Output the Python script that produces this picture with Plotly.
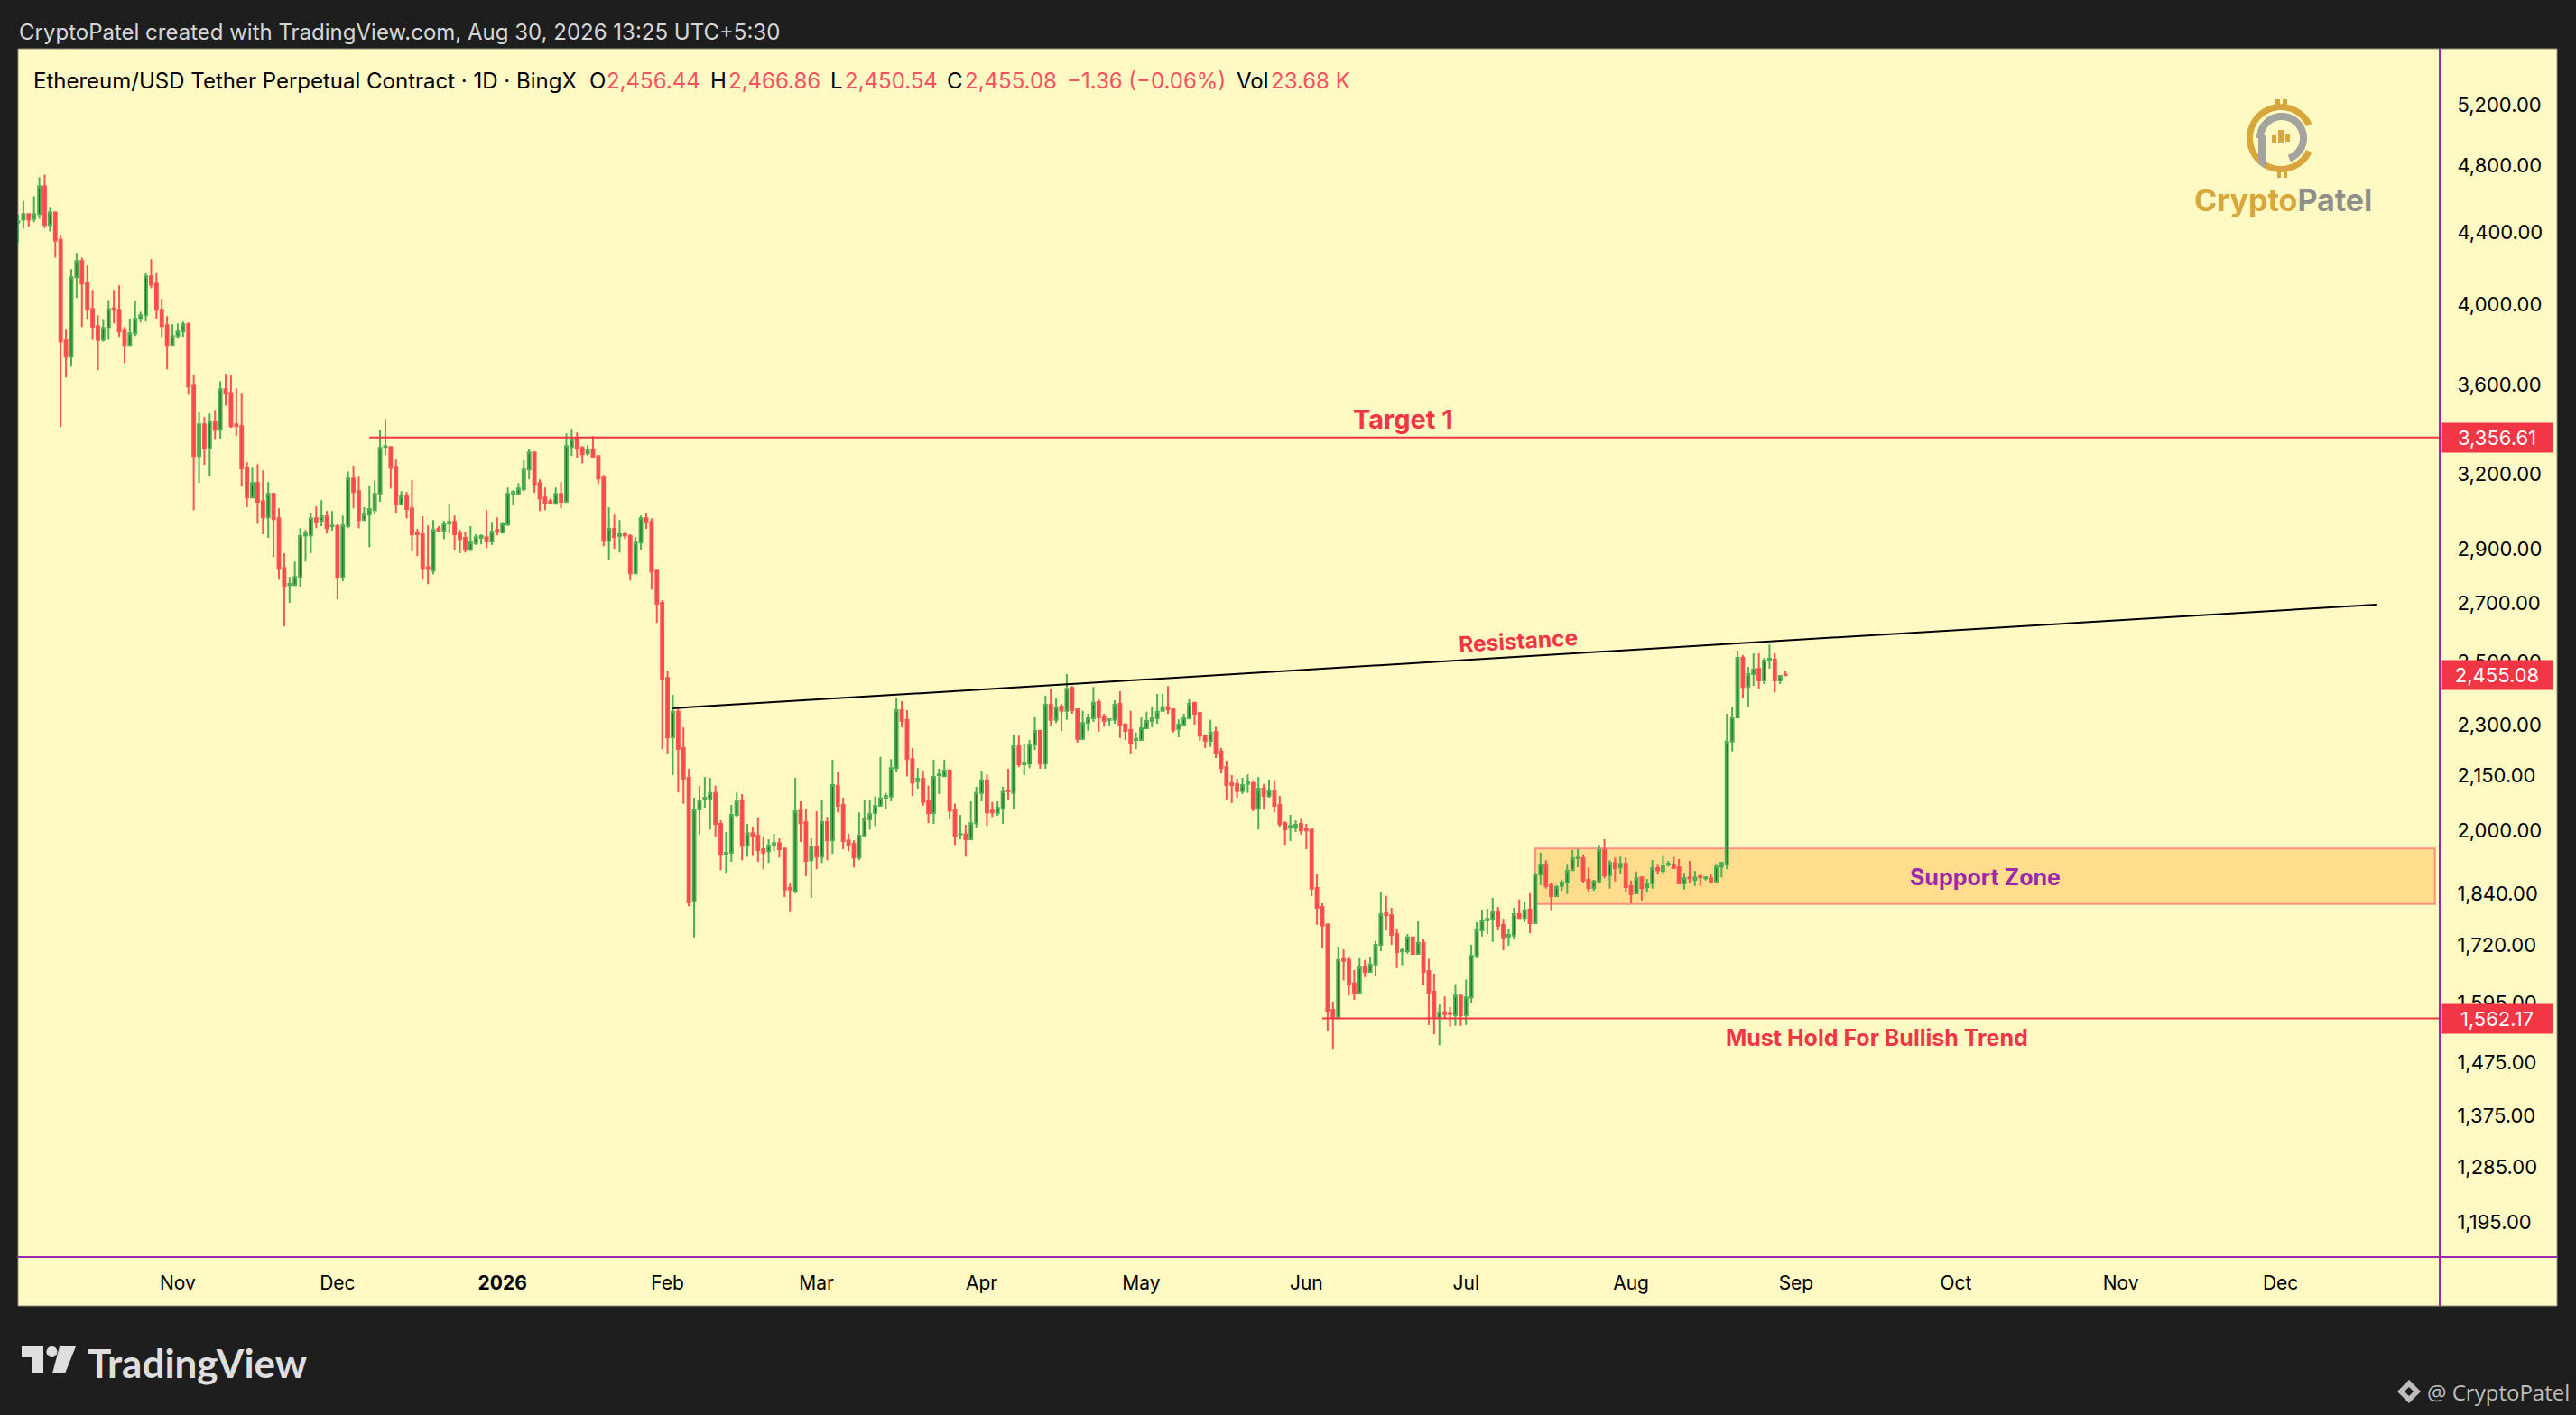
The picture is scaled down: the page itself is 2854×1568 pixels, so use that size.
"""ETHUSDT perpetual daily chart with support / resistance markup."""

import math

import numpy as np
import pandas as pd
import plotly.graph_objects as go

# Daily candles, first one is 2025-10-02
first_day = "2025-10-02"

opens = [
    4455,
    4471, 4504, 4477, 4504, 4672, 4440, 4514, 4355, 3814, 3733,
    4145, 4234, 4115, 3975, 3887, 3818, 3878, 3980, 3971, 3864,
    3791, 3850, 3924, 3943, 4150, 4110, 3971, 3892, 3791, 3837,
    3860, 3897, 3594, 3276, 3415, 3308, 3427, 3391, 3577, 3560,
    3415, 3407, 3226, 3102, 3161, 3087, 3022, 3117, 3018, 2827,
    2764, 2764, 2794, 2951, 2951, 3018, 3008, 3026, 2987, 2987,
    2791, 2987, 3180, 3128, 3011, 3033, 3051, 3117, 3315, 3315,
    3230, 3073, 3106, 3058, 2962, 2955, 2830, 2817, 2976, 2969,
    2997, 3004, 2958, 2941, 2896, 2920, 2941, 2944, 2927, 2972,
    2962, 2994, 3117, 3117, 3135, 3218, 3292, 3161, 3102, 3087,
    3076, 3117, 3084, 3315, 3351, 3311, 3288, 3304, 3276, 3184,
    2930, 2976, 2948, 2955, 2948, 2807, 2923, 3018, 3004, 2817,
    2700, 2446, 2262, 2339, 2230, 2144, 1822, 2057, 2084, 2086,
    2102, 2018, 1938, 1943, 2042, 2082, 1961, 1994, 1987, 1952,
    1947, 1963, 1968, 1954, 1855, 1848, 2054, 2023, 1924, 1959,
    1933, 2023, 1975, 2122, 2069, 1975, 1966, 1931, 1987, 2030,
    2047, 2067, 2089, 2092, 2172, 2344, 2314, 2198, 2134, 2142,
    2079, 2047, 2152, 2149, 2165, 2057, 1990, 1990, 1978, 2020,
    2102, 2137, 2054, 2047, 2059, 2109, 2102, 2235, 2183, 2185,
    2240, 2281, 2185, 2361, 2314, 2355, 2342, 2414, 2347, 2257,
    2305, 2319, 2369, 2325, 2314, 2314, 2364, 2300, 2284, 2254,
    2254, 2289, 2311, 2319, 2342, 2353, 2347, 2287, 2300, 2319,
    2367, 2336, 2267, 2251, 2278, 2220, 2175, 2129, 2127, 2107,
    2127, 2129, 2059, 2114, 2094, 2109, 2069, 2020, 2008, 2008,
    2018, 2006, 2003, 1855, 1809, 1767, 1580, 1565, 1689, 1687,
    1636, 1616, 1671, 1661, 1677, 1721, 1794, 1790, 1746, 1707,
    1707, 1738, 1701, 1726, 1663, 1618, 1564, 1575, 1573, 1569,
    1610, 1569, 1606, 1697, 1754, 1777, 1781, 1797, 1767, 1740,
    1742, 1792, 1783, 1803, 1771, 1888, 1913, 1862, 1835, 1860,
    1868, 1899, 1929, 1929, 1875, 1855, 1871, 1950, 1886, 1917,
    1906, 1915, 1860, 1842, 1881, 1857, 1866, 1904, 1897, 1913,
    1913, 1906, 1866, 1881, 1875, 1884, 1879, 1879, 1871, 1908,
    1913, 2249, 2322, 2511, 2417, 2458, 2476, 2438, 2505, 2505,
    2438, 2456.44,
]

highs = [
    4503,
    4584, 4509, 4611, 4728, 4745, 4546, 4520, 4382, 3869, 4189,
    4280, 4254, 4209, 4076, 3943, 3920, 4023, 4076, 4101, 3883,
    3924, 4018, 3961, 4169, 4244, 4169, 4028, 3938, 3897, 3901,
    3910, 3906, 3645, 3472, 3448, 3464, 3480, 3615, 3650, 3641,
    3581, 3556, 3249, 3226, 3241, 3214, 3165, 3121, 3058, 2882,
    2794, 2851, 2979, 2972, 3037, 3065, 3091, 3047, 3047, 2994,
    3029, 3210, 3234, 3188, 3062, 3150, 3173, 3391, 3440, 3319,
    3261, 3128, 3124, 3173, 2976, 3026, 2990, 3011, 2987, 3008,
    3073, 3029, 2972, 2965, 2987, 2955, 2955, 3051, 3004, 3022,
    3004, 3143, 3132, 3161, 3257, 3304, 3296, 3176, 3143, 3098,
    3143, 3165, 3375, 3395, 3379, 3319, 3323, 3363, 3276, 3195,
    3062, 3033, 3011, 2965, 2955, 2944, 3029, 3040, 3018, 2820,
    2710, 2469, 2392, 2355, 2292, 2170, 2089, 2122, 2147, 2144,
    2122, 2028, 1997, 2069, 2104, 2099, 2018, 2011, 2035, 1983,
    1978, 1992, 1980, 1954, 1866, 2144, 2079, 2059, 1980, 2052,
    2084, 2037, 2196, 2160, 2089, 1992, 1975, 2049, 2084, 2082,
    2092, 2204, 2102, 2198, 2381, 2372, 2344, 2230, 2172, 2165,
    2122, 2196, 2170, 2196, 2170, 2072, 2042, 2016, 2079, 2119,
    2165, 2154, 2077, 2079, 2119, 2170, 2270, 2267, 2240, 2254,
    2325, 2284, 2389, 2411, 2381, 2364, 2458, 2420, 2350, 2342,
    2333, 2417, 2378, 2333, 2319, 2375, 2403, 2305, 2342, 2276,
    2322, 2339, 2353, 2395, 2395, 2420, 2347, 2316, 2333, 2378,
    2369, 2336, 2270, 2314, 2294, 2230, 2193, 2152, 2142, 2144,
    2154, 2137, 2147, 2127, 2139, 2137, 2094, 2025, 2042, 2028,
    2032, 2018, 2003, 1888, 1818, 1771, 1597, 1717, 1711, 1693,
    1665, 1691, 1687, 1693, 1730, 1846, 1835, 1807, 1758, 1715,
    1746, 1738, 1775, 1734, 1689, 1657, 1591, 1608, 1586, 1634,
    1610, 1644, 1721, 1773, 1803, 1805, 1831, 1809, 1781, 1758,
    1807, 1827, 1822, 1842, 1892, 1943, 1924, 1868, 1862, 1875,
    1915, 1950, 1952, 1938, 1906, 1875, 1963, 1978, 1924, 1931,
    1933, 1931, 1873, 1895, 1881, 1877, 1924, 1915, 1935, 1922,
    1933, 1927, 1892, 1922, 1897, 1888, 1884, 1888, 1915, 1920,
    2333, 2355, 2535, 2520, 2482, 2526, 2526, 2511, 2556, 2526,
    2455, 2466.86,
]

lows = [
    4336,
    4419, 4430, 4456, 4477, 4424, 4403, 4254, 3403, 3633, 3685,
    4033, 3883, 3920, 3818, 3667, 3809, 3818, 3901, 3832, 3702,
    3787, 3837, 3906, 3910, 4086, 3924, 3832, 3672, 3787, 3823,
    3832, 3552, 3051, 3161, 3238, 3188, 3347, 3351, 3501, 3399,
    3363, 3147, 3062, 3098, 2997, 2955, 2941, 2868, 2784, 2618,
    2700, 2760, 2758, 2851, 2882, 2979, 2987, 2958, 2969, 2713,
    2778, 2979, 3058, 2979, 3008, 2906, 3033, 3084, 3280, 3139,
    3037, 3069, 3018, 2889, 2871, 2784, 2768, 2804, 2962, 2937,
    2958, 2896, 2882, 2885, 2889, 2913, 2916, 2902, 2913, 2951,
    2958, 2987, 3069, 3113, 3128, 3176, 3121, 3047, 3051, 3073,
    3073, 3058, 3080, 3276, 3269, 3245, 3276, 3269, 3158, 2909,
    2858, 2899, 2885, 2937, 2781, 2804, 2896, 2976, 2748, 2630,
    2227, 2214, 2152, 2104, 2072, 1811, 1738, 1990, 2062, 2003,
    1985, 1899, 1892, 1920, 2037, 1924, 1933, 1935, 1920, 1901,
    1917, 1947, 1931, 1833, 1797, 1842, 1971, 1884, 1831, 1901,
    1917, 1924, 1940, 2049, 1952, 1947, 1906, 1924, 1985, 2003,
    2013, 2064, 2057, 2079, 2162, 2292, 2149, 2094, 2114, 2067,
    2020, 2018, 2099, 2147, 2030, 1963, 1978, 1933, 1975, 2008,
    2079, 2013, 2037, 2040, 2018, 2084, 2057, 2175, 2152, 2172,
    2225, 2170, 2170, 2297, 2305, 2281, 2314, 2333, 2246, 2254,
    2281, 2308, 2278, 2294, 2297, 2303, 2260, 2254, 2214, 2227,
    2251, 2289, 2292, 2303, 2339, 2333, 2276, 2262, 2294, 2316,
    2300, 2251, 2230, 2233, 2201, 2157, 2084, 2074, 2089, 2099,
    2102, 2052, 2003, 2057, 2089, 2049, 2011, 1963, 1973, 1997,
    1990, 1952, 1835, 1767, 1713, 1537, 1501, 1560, 1642, 1610,
    1601, 1614, 1649, 1659, 1651, 1707, 1754, 1721, 1669, 1675,
    1701, 1699, 1699, 1632, 1549, 1530, 1508, 1562, 1545, 1547,
    1547, 1549, 1593, 1691, 1740, 1746, 1728, 1754, 1709, 1719,
    1734, 1781, 1773, 1748, 1769, 1862, 1853, 1801, 1833, 1848,
    1840, 1897, 1906, 1868, 1844, 1848, 1868, 1879, 1853, 1871,
    1890, 1844, 1818, 1840, 1825, 1844, 1853, 1888, 1890, 1908,
    1902, 1864, 1851, 1868, 1860, 1860, 1873, 1866, 1868, 1881,
    1901, 2220, 2319, 2381, 2353, 2420, 2411, 2426, 2476, 2400,
    2426, 2450.54,
]

closes = [
    4462,
    4504, 4471, 4504, 4672, 4440, 4514, 4350, 3809, 3733, 4145,
    4234, 4110, 3971, 3883, 3818, 3878, 3975, 3971, 3860, 3791,
    3850, 3924, 3943, 4150, 4105, 3971, 3887, 3791, 3837, 3860,
    3897, 3590, 3276, 3415, 3308, 3427, 3391, 3577, 3556, 3407,
    3407, 3222, 3102, 3161, 3084, 3022, 3117, 3015, 2824, 2758,
    2768, 2794, 2948, 2958, 3018, 3004, 3026, 2979, 2990, 2791,
    2990, 3180, 3124, 3011, 3033, 3055, 3117, 3311, 3319, 3226,
    3073, 3106, 3055, 2955, 2955, 2824, 2824, 2972, 2969, 2997,
    3004, 2955, 2937, 2896, 2923, 2944, 2948, 2927, 2965, 2965,
    2997, 3117, 3124, 3139, 3218, 3292, 3158, 3098, 3080, 3080,
    3117, 3084, 3319, 3347, 3308, 3284, 3304, 3272, 3180, 2930,
    2976, 2944, 2955, 2951, 2807, 2923, 3018, 3004, 2814, 2697,
    2443, 2262, 2339, 2227, 2142, 1820, 2057, 2079, 2089, 2102,
    2018, 1938, 1943, 2042, 2079, 1961, 1994, 1985, 1950, 1943,
    1961, 1968, 1952, 1851, 1851, 2052, 2020, 1922, 1957, 1933,
    2023, 1975, 2124, 2067, 1973, 1963, 1931, 1987, 2030, 2044,
    2067, 2087, 2094, 2172, 2344, 2311, 2198, 2131, 2142, 2077,
    2047, 2147, 2154, 2165, 2054, 1987, 1992, 1978, 2020, 2102,
    2137, 2049, 2049, 2062, 2107, 2107, 2235, 2183, 2188, 2240,
    2281, 2185, 2361, 2314, 2353, 2342, 2411, 2344, 2257, 2305,
    2319, 2367, 2322, 2311, 2316, 2361, 2297, 2281, 2246, 2257,
    2289, 2311, 2319, 2339, 2353, 2347, 2284, 2300, 2319, 2364,
    2333, 2267, 2251, 2276, 2217, 2172, 2124, 2124, 2107, 2124,
    2132, 2059, 2114, 2094, 2109, 2067, 2018, 2003, 2013, 2016,
    2001, 2001, 1853, 1807, 1765, 1578, 1565, 1687, 1685, 1634,
    1616, 1671, 1661, 1677, 1721, 1792, 1790, 1744, 1705, 1709,
    1738, 1701, 1726, 1661, 1616, 1564, 1575, 1571, 1571, 1610,
    1569, 1606, 1697, 1754, 1777, 1781, 1797, 1765, 1738, 1744,
    1792, 1783, 1801, 1771, 1888, 1913, 1860, 1835, 1857, 1868,
    1897, 1929, 1931, 1873, 1855, 1871, 1950, 1886, 1917, 1904,
    1915, 1857, 1840, 1879, 1855, 1866, 1904, 1899, 1910, 1915,
    1904, 1866, 1879, 1879, 1881, 1881, 1881, 1871, 1908, 1917,
    2249, 2322, 2511, 2417, 2458, 2473, 2438, 2502, 2508, 2438,
    2452, 2455.08,
]

price_ticks = [5200, 4800, 4400, 4000, 3600, 3200, 2900, 2700, 2500, 2300,
               2150, 2000, 1840, 1720, 1595, 1475, 1375, 1285, 1195]
month_ticks = ["2025-11-01", "2025-12-01", "2026-01-01", "2026-02-01", "2026-03-01",
               "2026-04-01", "2026-05-01", "2026-06-01", "2026-07-01", "2026-08-01",
               "2026-09-01", "2026-10-01", "2026-11-01", "2026-12-01"]
month_labels = ["Nov", "Dec", "<b>2026</b>", "Feb", "Mar", "Apr", "May", "Jun",
                "Jul", "Aug", "Sep", "Oct", "Nov", "Dec"]

# Drawn levels
target_price = 3356.61
hold_price = 1562.17
last_price = 2455.08
resistance_x = ["2026-02-02", "2026-12-19"]
resistance_y = [2350, 2694]
target_x = ["2025-12-07", "2026-12-31"]
hold_x = ["2026-06-04", "2026-12-31"]
support_x = ["2026-07-14", "2026-12-30"]
support_y = [1816, 1954]

WIDTH, HEIGHT = 2854, 1568
LEFT, RIGHT, TOP, BOTTOM = 20, 2703, 54, 1393  # plot area in page pixels
PANEL_R, PANEL_B = 2833, 1447
FONT = "Inter"
DARK = "#1E1E1E"
CREAM = "#FFF9C4"
RED = "#F23645"
PURPLE = "#9C27B0"
UP_LINE, UP_FILL = "#4CAF50", "#1B5E20"
DOWN_LINE, DOWN_FILL = "#FF5252", "#F44336"
TEXT_RED = "#F7525F"
GOLD = "#D9A63C"
SILVER = "#A3A3A0"


def px(x):
    return (x - LEFT) / (RIGHT - LEFT)


def py(y):
    return (BOTTOM - y) / (BOTTOM - TOP)


def poly(points):
    return "M " + " L ".join(f"{px(x):.5f},{py(y):.5f}" for x, y in points) + " Z"


def ring(cx, cy, r_out, r_in, a0, a1):
    """Ring segment as a polygon, angles in degrees, counter clockwise."""
    angles = np.radians(np.linspace(a0, a1, 50))
    outer = [(cx + r_out * math.cos(a), cy - r_out * math.sin(a)) for a in angles]
    inner = [(cx + r_in * math.cos(a), cy - r_in * math.sin(a)) for a in angles[::-1]]
    return poly(outer + inner)


def label(fig, x, y, text, size=24, color="#000000", anchor="left", angle=0, family=FONT):
    fig.add_annotation(
        xref="paper", yref="paper", x=px(x), y=py(y), text=text, showarrow=False,
        xanchor=anchor, yanchor="middle", textangle=angle, borderpad=0,
        font=dict(family=family, size=size, color=color),
    )


def fill_shape(fig, path, color):
    fig.add_shape(type="path", xref="paper", yref="paper", path=path,
                  fillcolor=color, line_width=0, layer="above")


days = pd.date_range(first_day, periods=len(closes), freq="D")

fig = go.Figure()

fig.add_trace(go.Candlestick(
    x=days, open=opens, high=highs, low=lows, close=closes,
    line_width=2,
    increasing=dict(line=dict(color=UP_LINE, width=2), fillcolor=UP_FILL),
    decreasing=dict(line=dict(color=DOWN_LINE, width=2), fillcolor=DOWN_FILL),
    whiskerwidth=0, showlegend=False, hoverinfo="skip",
))

# Target, hold level and resistance trendline
fig.add_trace(go.Scatter(x=target_x, y=[target_price, target_price], mode="lines",
                         line=dict(color=RED, width=2), showlegend=False, hoverinfo="skip"))
fig.add_trace(go.Scatter(x=hold_x, y=[hold_price, hold_price], mode="lines",
                         line=dict(color=RED, width=2), showlegend=False, hoverinfo="skip"))
fig.add_trace(go.Scatter(x=resistance_x, y=resistance_y, mode="lines",
                         line=dict(color="#000000", width=2), showlegend=False, hoverinfo="skip"))

# Cream panel including the axis strips
fig.add_shape(type="rect", xref="paper", yref="paper", layer="below",
              x0=0, x1=px(PANEL_R), y0=py(PANEL_B), y1=1,
              fillcolor=CREAM, line=dict(color="#8F8F7A", width=1))

# Support zone
fig.add_shape(type="rect", xref="x", yref="y", layer="below",
              x0=support_x[0], x1=support_x[1], y0=support_y[0], y1=support_y[1],
              fillcolor="#FFDD8C", line=dict(color="#FB9085", width=2))

# Purple axis separators
fig.add_shape(type="line", xref="paper", yref="paper", x0=1, x1=1, y0=py(PANEL_B), y1=1,
              line=dict(color=PURPLE, width=2), layer="above")
fig.add_shape(type="line", xref="paper", yref="paper", x0=0, x1=px(PANEL_R), y0=0, y1=0,
              line=dict(color=PURPLE, width=2), layer="above")

# Header and OHLC legend
label(fig, 20, 36, "CryptoPatel created with TradingView.com, Aug 30, 2026 13:25 UTC+5:30",
      size=24, color="#D6D6D6")
label(fig, 36, 89, "Ethereum/USD Tether Perpetual Contract · 1D · BingX")
for x, letter, x_val, value in [
    (652, "O", 671, "2,456.44"), (786, "H", 806, "2,466.86"),
    (919, "L", 935, "2,450.54"), (1048, "C", 1068, "2,455.08"),
]:
    label(fig, x, 89, letter)
    label(fig, x_val, 89, value, color=TEXT_RED)
label(fig, 1181, 89, "−1.36 (−0.06%)", color=TEXT_RED)
label(fig, 1369, 89, "Vol")
label(fig, 1407, 89, "23.68 K", color=TEXT_RED)

# Chart text
label(fig, 1554, 464, "<b>Target 1</b>", size=29, color=RED, anchor="center")
label(fig, 1682, 710, "<b>Resistance</b>", size=24.5, color=RED, anchor="center", angle=-3.5)
label(fig, 2199, 972, "<b>Support Zone</b>", size=25, color=PURPLE, anchor="center")
label(fig, 2079, 1150, "<b>Must Hold For Bullish Trend</b>", size=25, color=RED, anchor="center")

# Price tags on the axis
for price, tag_bg in [(target_price, RED), (last_price, RED), (hold_price, RED)]:
    fig.add_annotation(
        xref="paper", yref="y", x=px(RIGHT + 1), y=math.log10(price), text=f"{price:,.2f}",
        showarrow=False, xanchor="left", yanchor="middle", width=123, height=32,
        align="center", bgcolor=tag_bg, borderpad=0,
        font=dict(family=FONT, size=22, color="#FFFFFF"),
    )

# CryptoPatel logo
fill_shape(fig, ring(2527, 153, 38, 31, 25, 335), GOLD)
fill_shape(fig, ring(2528, 153, 28, 20, -70, 180), SILVER)
fill_shape(fig, poly([(2502, 150), (2510, 150), (2510, 187), (2502, 181)]), SILVER)
for x0, x1, y0, y1 in [(2521, 2526, 110, 117), (2529, 2534, 110, 117),
                       (2523, 2527, 190, 197), (2530, 2534, 190, 197)]:
    fill_shape(fig, poly([(x0, y0), (x1, y0), (x1, y1), (x0, y1)]), GOLD)
for x0, x1, y0, y1 in [(2517, 2522, 150, 158), (2524, 2530, 144, 158), (2532, 2537, 149, 157)]:
    fill_shape(fig, poly([(x0, y0), (x1, y0), (x1, y1), (x0, y1)]), GOLD)
label(fig, 2430, 221,
      f"<b><span style='color:{GOLD}'>Crypto</span><span style='color:#8E8E8A'>Patel</span></b>",
      size=34)

# TradingView logo and watermark in the footer
fill_shape(fig, poly([(24, 1492), (48, 1492), (48, 1522), (36, 1522), (36, 1504), (24, 1504)]), "#DEDEDE")
fill_shape(fig, ring(57.5, 1498, 6, 0, 0, 360), "#DEDEDE")
fill_shape(fig, poly([(66, 1492), (84, 1492), (72, 1522), (58, 1522)]), "#DEDEDE")
label(fig, 96, 1510, "<b>TradingView</b>", size=44, color="#DEDEDE", family="Lato")
fill_shape(fig, poly([(2669, 1529), (2682, 1542), (2669, 1555), (2656, 1542)]), "#BDBDBD")
fill_shape(fig, poly([(2669, 1537), (2674, 1542), (2669, 1547), (2664, 1542)]), DARK)
label(fig, 2688, 1542, "@ CryptoPatel", size=24, color="#BDBDBD", family="Open Sans")

fig.update_layout(
    width=WIDTH, height=HEIGHT,
    margin=dict(l=LEFT, r=WIDTH - RIGHT, t=TOP, b=HEIGHT - BOTTOM, pad=0),
    paper_bgcolor=DARK, plot_bgcolor=CREAM,
    font=dict(family=FONT, size=22, color="#000000"),
    showlegend=False, dragmode=False,
    xaxis=dict(
        type="date", rangeslider_visible=False,
        range=["2025-10-02 00:00", "2026-12-30 21:40"],
        tickmode="array", tickvals=month_ticks, ticktext=month_labels, tickangle=0,
        showgrid=False, zeroline=False, showline=False,
        ticks="outside", ticklen=10, tickcolor="rgba(0,0,0,0)",
        tickfont=dict(family=FONT, size=21, color="#000000"),
    ),
    yaxis=dict(
        type="log", side="right",
        range=[math.log10(1141), math.log10(5600)],
        tickmode="array", tickvals=price_ticks,
        ticktext=[f"{v:,.2f}" for v in price_ticks],
        showgrid=False, zeroline=False, showline=False,
        ticks="outside", ticklen=14, tickcolor="rgba(0,0,0,0)",
        tickfont=dict(family=FONT, size=22, color="#000000"),
    ),
)

fig.write_html("out.html", config={"displayModeBar": False},
               post_script="document.body.style.margin = '0';")
